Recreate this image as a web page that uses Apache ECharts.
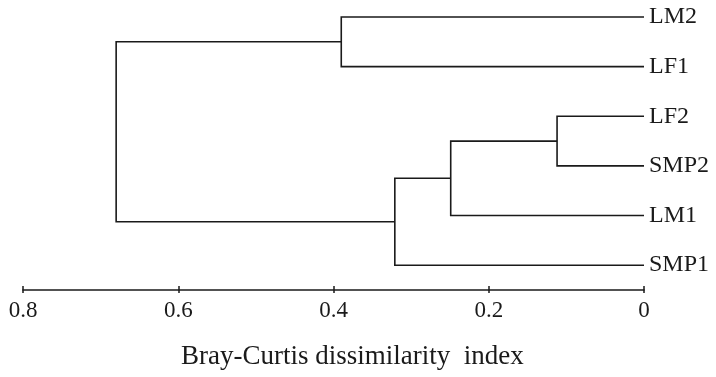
<!DOCTYPE html>
<html>
<head>
<meta charset="utf-8">
<script src="https://cdn.jsdelivr.net/npm/echarts@6/dist/echarts.min.js"></script>
<style>
  html, body { margin: 0; padding: 0; background: #fff; }
  #chart { width: 716px; height: 377px; }
</style>
</head>
<body>
<div id="chart"></div>
<script>
// Leaves of the dendrogram, top to bottom
const leaves = ['LM2', 'LF1', 'LF2', 'SMP2', 'LM1', 'SMP1'];

// Agglomeration steps: node ids 0..5 are leaves, each merge creates id 6, 7, ...
const mergeLeft = [2, 6, 7, 0, 9];
const mergeRight = [3, 4, 5, 1, 8];
const mergeHeight = [0.112, 0.249, 0.321, 0.39, 0.68];

// Distance axis tick labels
const xTicks = [0, 0.2, 0.4, 0.6, 0.8];
const xTickLabels = ['0', '0.2', '0.4', '0.6', '0.8'];

const axisTitle = 'Bray-Curtis dissimilarity  index';

// Height and vertical position of every node (leaves first, then merges)
const nodeHeight = leaves.map(() => 0);
const nodePos = leaves.map((_, i) => i);
mergeHeight.forEach((h, k) => {
  nodeHeight.push(h);
  nodePos.push((nodePos[mergeLeft[k]] + nodePos[mergeRight[k]]) / 2);
});

const serif = 'Liberation Serif';
const ink = '#1a1a1a';
const gridTop = 17;
const gridBottom = 87;
const chartHeight = 377;

const chart = echarts.init(document.getElementById('chart'));

const xBase = {
  type: 'value',
  inverse: true,
  min: 0,
  max: 0.8,
  interval: 0.2,
  splitLine: { show: false }
};

chart.setOption({
  animation: false,
  title: {
    text: axisTitle,
    left: 181,
    top: 343,
    padding: 0,
    textStyle: { fontFamily: serif, fontSize: 27, fontWeight: 'normal', color: ink }
  },
  grid: { left: 23, right: 72, top: gridTop, bottom: gridBottom, containLabel: false },
  xAxis: [
    Object.assign({}, xBase, {
      position: 'bottom',
      axisLine: { show: true, onZero: false, lineStyle: { color: ink, width: 1.6 } },
      axisTick: { show: true, length: 3, lineStyle: { color: ink, width: 1.5 } },
      axisLabel: {
        margin: 9,
        fontFamily: serif,
        fontSize: 23,
        color: ink,
        formatter: v => {
          const i = xTicks.findIndex(t => Math.abs(t - v) < 1e-9);
          return i >= 0 ? xTickLabels[i] : '';
        }
      }
    }),
    // upper half of the tick marks, shifted down onto the bottom axis line
    Object.assign({}, xBase, {
      position: 'top',
      offset: -(chartHeight - gridTop - gridBottom),
      axisLine: { show: false, onZero: false },
      axisTick: { show: true, inside: false, length: 4, lineStyle: { color: ink, width: 1.5 } },
      axisLabel: { show: false }
    })
  ],
  yAxis: {
    type: 'value',
    inverse: true,
    min: 0,
    max: 5.5,
    interval: 1,
    position: 'right',
    axisLine: { show: false },
    axisTick: { show: false },
    splitLine: { show: false },
    axisLabel: {
      margin: 5,
      showMaxLabel: false,
      fontFamily: serif,
      fontSize: 24,
      color: ink,
      formatter: v => (Number.isInteger(v) && leaves[v] !== undefined ? leaves[v] : '')
    }
  },
  series: [{
    type: 'custom',
    clip: false,
    xAxisIndex: 0,
    data: mergeHeight.map((h, k) => [h, nodePos[leaves.length + k]]),
    encode: { x: 0, y: 1 },
    renderItem: (params, api) => {
      const k = params.dataIndex;
      const a = mergeLeft[k], b = mergeRight[k], h = mergeHeight[k];
      const pts = [
        api.coord([nodeHeight[a], nodePos[a]]),
        api.coord([h, nodePos[a]]),
        api.coord([h, nodePos[b]]),
        api.coord([nodeHeight[b], nodePos[b]])
      ];
      return {
        type: 'polyline',
        shape: { points: pts },
        style: { fill: null, stroke: ink, lineWidth: 1.6 }
      };
    }
  }]
});
</script>
</body>
</html>
